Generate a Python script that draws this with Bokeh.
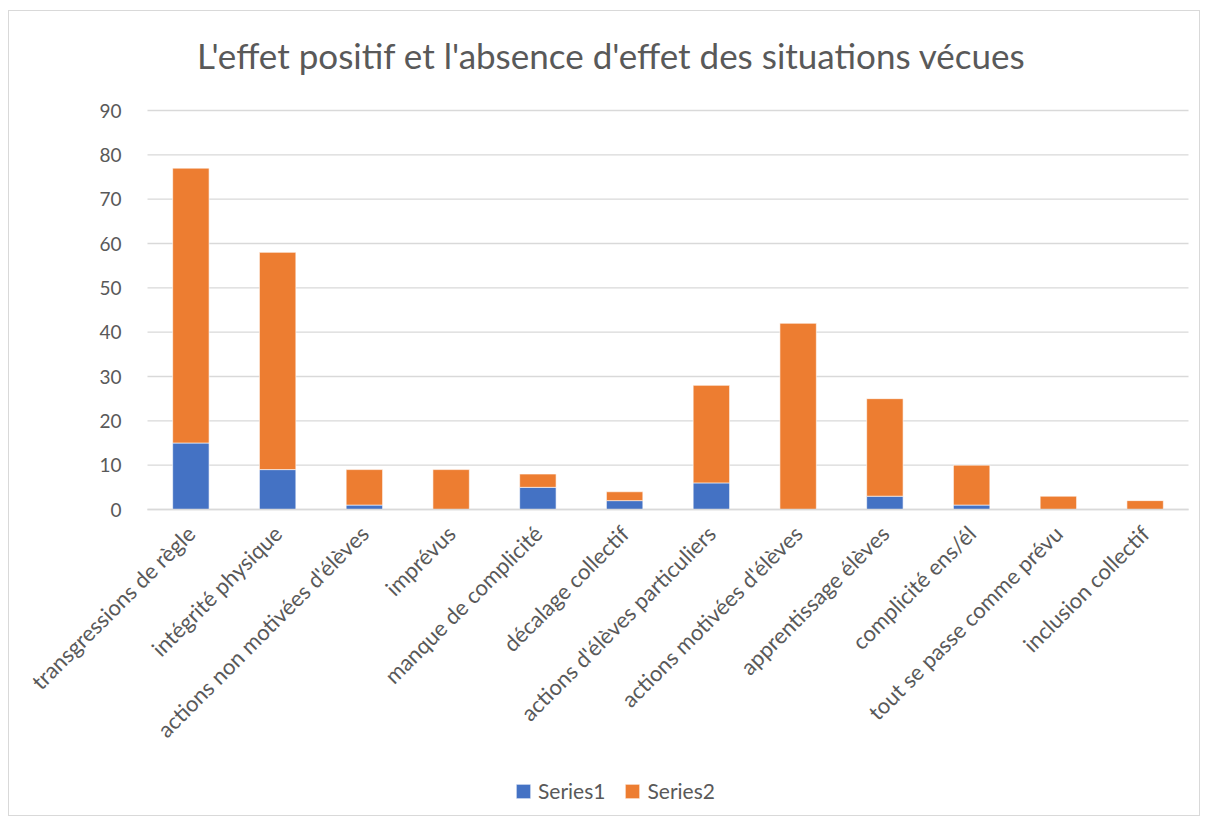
import math
from bokeh.plotting import figure
from bokeh.models import ColumnDataSource, Legend, LegendItem, Range1d, FixedTicker, Label
from bokeh.embed import file_html
from bokeh.resources import INLINE

categories = ["transgressions de règle", "intégrité physique", "actions non motivées d'élèves",
              "imprévus", "manque de complicité", "décalage collectif",
              "actions d'élèves particuliers", "actions motivées d'élèves", "apprentissage élèves",
              "complicité ens/él", "tout se passe comme prévu", "inclusion collectif"]
series1 = [15, 9, 1, 0, 5, 2, 6, 0, 3, 1, 0, 0]
series2 = [62, 49, 8, 9, 3, 2, 22, 42, 22, 9, 3, 2]
series_names = ["Series1", "Series2"]
colors = ["#4472C4", "#ED7D31"]
y_ticks = [0, 10, 20, 30, 40, 50, 60, 70, 80, 90]
title_text = "L'effet positif et l'absence d'effet des situations vécues"

FONT = "Lato"
GRAY = "#595959"
GRID = "#d9d9d9"

n = len(categories)
positions = list(range(1, n + 1))

# layout constants (pixels, page coordinates)
W, H = 1192, 806
ORIGIN_X, ORIGIN_Y = 9, 11          # top-left of the canvas on the page
AREA_L, AREA_R = 147, 1188          # category area
Y0_PX, Y90_PX = 509, 110            # pixel rows of 0 and 90
TITLE_X, TITLE_BASE = 611, 54

px_per_cat = (AREA_R - AREA_L) / n
px_per_unit = (Y0_PX - Y90_PX) / 90
x_start = 0.5 - (AREA_L - ORIGIN_X) / px_per_cat
x_end = x_start + W / px_per_cat
y_end = 90 + (Y90_PX - ORIGIN_Y) / px_per_unit
y_start = y_end - H / px_per_unit

src = ColumnDataSource(dict(x=positions, Series1=series1, Series2=series2))
grid_src = ColumnDataSource(dict(y=y_ticks, x0=[0.5] * len(y_ticks), x1=[n + 0.5] * len(y_ticks)))

p = figure(x_range=Range1d(x_start, x_end), y_range=Range1d(y_start, y_end),
           width=W, height=H, output_backend="svg", toolbar_location=None,
           min_border_left=0, min_border_right=0, min_border_top=0, min_border_bottom=0)
p.styles = {"border": "1px solid #d9d9d9", "margin-left": "8px", "margin-top": "10px"}

p.segment(x0="x0", x1="x1", y0="y", y1="y", source=grid_src, line_color=GRID, line_width=1.3)

renderers = p.vbar_stack(series_names, x="x", width=0.42, source=src, color=colors,
                         line_color="white", line_width=0.6)

title = Label(x=x_start + (TITLE_X - ORIGIN_X) / px_per_cat,
              y=90 + (Y90_PX - TITLE_BASE) / px_per_unit,
              text=title_text, text_font=FONT, text_font_size="35px", text_color=GRAY,
              text_align="center", text_baseline="alphabetic")
p.add_layout(title)

p.outline_line_color = None
p.xgrid.grid_line_color = None
p.ygrid.grid_line_color = None

p.yaxis.fixed_location = 0.5
p.yaxis.ticker = FixedTicker(ticks=y_ticks)
p.yaxis.axis_line_color = None
p.yaxis.major_tick_line_color = None
p.yaxis.minor_tick_line_color = None
p.yaxis.major_label_text_font = FONT
p.yaxis.major_label_text_font_size = "19px"
p.yaxis.major_label_text_color = GRAY
p.yaxis.major_label_standoff = 20

p.xaxis.fixed_location = 0
p.xaxis.bounds = (0.5, n + 0.5)
p.xaxis.ticker = FixedTicker(ticks=positions)
p.xaxis.major_label_overrides = {k: c for k, c in zip(positions, categories)}
p.xaxis.axis_line_color = GRID
p.xaxis.axis_line_width = 1.3
p.xaxis.major_tick_line_color = None
p.xaxis.minor_tick_line_color = None
p.xaxis.major_label_orientation = math.pi / 4
p.xaxis.major_label_text_font = FONT
p.xaxis.major_label_text_font_size = "22px"
p.xaxis.major_label_text_color = GRAY
p.xaxis.major_label_standoff = 14

legend = Legend(items=[LegendItem(label=s, renderers=[r]) for s, r in zip(series_names, renderers)],
                orientation="horizontal", location=(505, 14),
                label_text_font=FONT, label_text_font_size="21px", label_text_color=GRAY,
                glyph_width=18, glyph_height=18, spacing=18, label_standoff=6,
                border_line_color=None, background_fill_alpha=0)
p.add_layout(legend, "center")

open("out.html", "w").write(file_html(p, INLINE))
